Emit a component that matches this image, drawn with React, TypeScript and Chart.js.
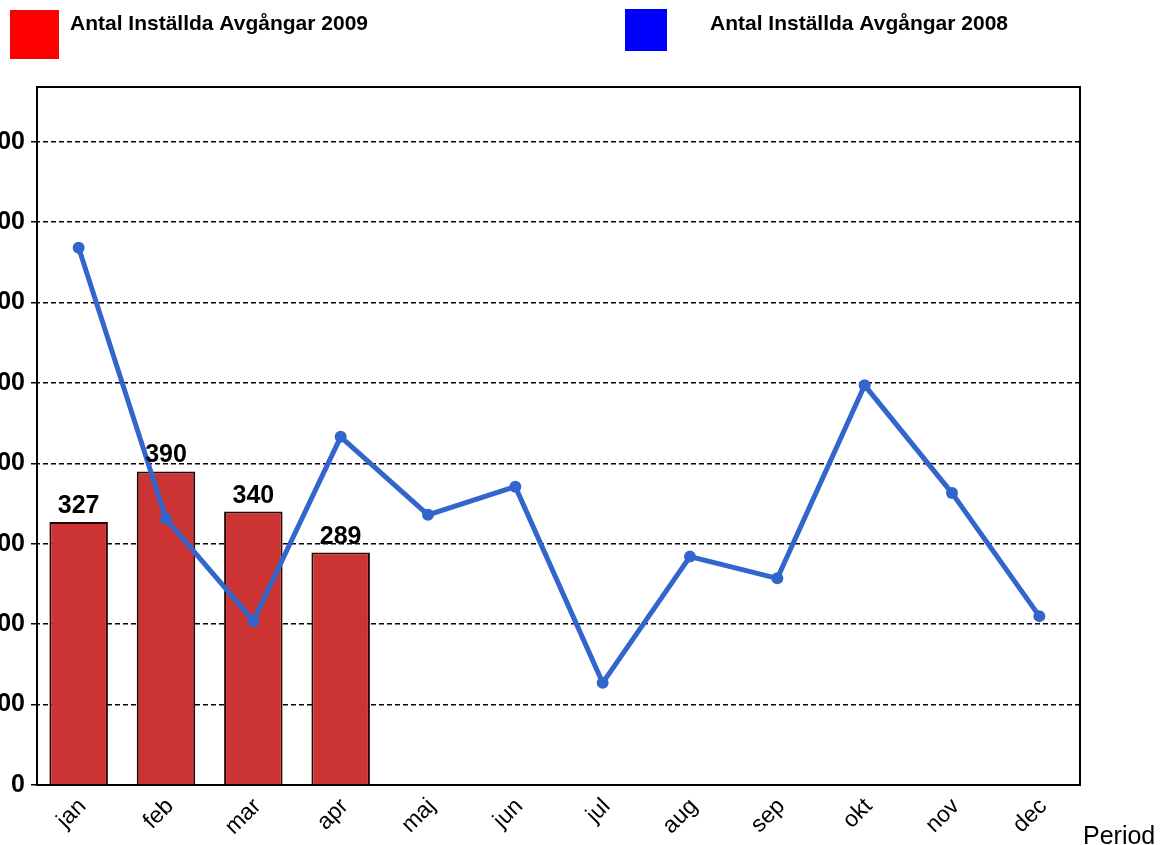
import React, { useEffect, useRef } from "react";
import { Chart, registerables } from "chart.js";

Chart.register(...registerables);

const months = ["jan", "feb", "mar", "apr", "maj", "jun", "jul", "aug", "sep", "okt", "nov", "dec"];
const values2009 = [327, 390, 340, 289];
const values2008 = [668, 331, 204, 433, 336, 371, 127, 284, 257, 497, 363, 210];
const label2009 = "Antal Inställda Avgångar 2009";
const label2008 = "Antal Inställda Avgångar 2008";
const xAxisTitle = "Period";

const FONT = "'Liberation Sans', Arial, Helvetica, sans-serif";
const OFFSET = 40;

const overlayPlugin = {
  id: "overlay",
  afterDatasetsDraw(chart: any) {
    const ctx = chart.ctx;
    ctx.save();
    const meta = chart.getDatasetMeta(0);
    ctx.font = `bold 25px ${FONT}`;
    ctx.fillStyle = "#000";
    ctx.textAlign = "center";
    ctx.textBaseline = "alphabetic";
    meta.data.forEach((bar: any, i: number) => {
      const v = chart.data.datasets[0].data[i];
      if (v == null) return;
      ctx.fillText(String(v), bar.x, bar.y - 9);
    });
    ctx.restore();
  },
  afterDraw(chart: any) {
    const ctx = chart.ctx;
    const area = chart.chartArea;
    ctx.save();
    ctx.strokeStyle = "#000";
    ctx.lineWidth = 2;
    ctx.setLineDash([]);
    const fl = 37 + OFFSET;
    const fr = 1080 + OFFSET;
    ctx.strokeRect(fl, area.top, fr - fl, area.bottom - area.top);
    ctx.fillStyle = "#FF0000";
    ctx.fillRect(10 + OFFSET, 10, 49, 49);
    ctx.fillStyle = "#0000FF";
    ctx.fillRect(625 + OFFSET, 9, 42, 42);
    ctx.fillStyle = "#000";
    ctx.font = `bold 21px ${FONT}`;
    ctx.textAlign = "left";
    ctx.textBaseline = "alphabetic";
    ctx.fillText(chart.data.datasets[0].label, 70 + OFFSET, 30);
    ctx.fillText(chart.data.datasets[1].label, 710 + OFFSET, 30);
    ctx.font = `25px ${FONT}`;
    ctx.fillText(xAxisTitle, 1083 + OFFSET, 844);
    ctx.restore();
  },
};

export default function App() {
  const ref = useRef<HTMLCanvasElement | null>(null);
  useEffect(() => {
    if (!ref.current) return;
    const chart = new Chart(ref.current, {
      type: "bar",
      data: {
        labels: months,
        datasets: [
          {
            type: "bar",
            label: label2009,
            data: values2009,
            backgroundColor: "#CC3333",
            borderColor: "#2a0505",
            borderWidth: 2,
            categoryPercentage: 1,
            barPercentage: 0.67,
            order: 2,
          } as any,
          {
            type: "line",
            label: label2008,
            data: values2008,
            borderColor: "#3366CC",
            backgroundColor: "#3366CC",
            borderWidth: 5,
            pointRadius: 6,
            pointBorderWidth: 0,
            pointBackgroundColor: "#3366CC",
            tension: 0,
            fill: false,
            order: 1,
          } as any,
        ],
      },
      options: {
        animation: false,
        responsive: false,
        maintainAspectRatio: false,
        devicePixelRatio: 1,
        layout: { padding: { left: 0, top: 87, right: 1200 - 1083 - OFFSET, bottom: 0 } },
        plugins: { legend: { display: false }, tooltip: { enabled: false } },
        scales: {
          x: {
            grid: { display: false },
            border: { display: false },
            ticks: {
              color: "#000",
              font: { family: FONT, size: 23 },
              maxRotation: 45,
              minRotation: 45,
              padding: 0,
              labelOffset: 4,
            },
            afterFit(scale: any) {
              scale.height = 60;
            },
          },
          y: {
            min: 0,
            max: 868,
            border: { display: false, dash: [5, 3] },
            grid: {
              color: "#000",
              lineWidth: 1.5,
              drawTicks: true,
              tickLength: 4,
              tickColor: "#000",
              tickBorderDash: [],
              tickWidth: 1.5,
            },
            ticks: {
              stepSize: 100,
              includeBounds: false,
              color: "#000",
              font: { family: FONT, size: 25, weight: "bold" },
              padding: 6,
            },
            afterFit(scale: any) {
              scale.width = 35 + OFFSET;
            },
          },
        },
      },
      plugins: [overlayPlugin],
    } as any);
    return () => chart.destroy();
  }, []);
  return (
    <div style={{ position: "absolute", left: -OFFSET, top: 0, width: 1200, height: 845, overflow: "hidden", background: "#fff" }}>
      <canvas ref={ref} width={1200} height={845} style={{ display: "block", width: 1200, height: 845 }} />
    </div>
  );
}
